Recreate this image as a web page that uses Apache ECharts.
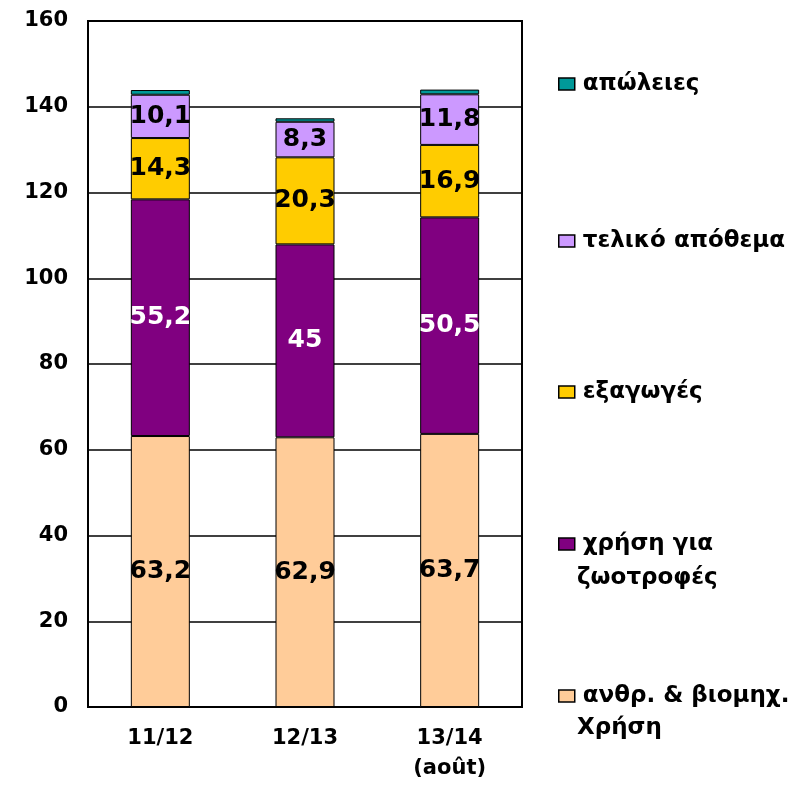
<!DOCTYPE html>
<html>
<head>
<meta charset="utf-8">
<script src="https://cdn.jsdelivr.net/npm/echarts@6/dist/echarts.min.js"></script>
<style>html,body{margin:0;padding:0;background:#fff}#c{width:809px;height:785px}</style>
</head>
<body>
<div id="c"></div>
<script>
const categories = ['11/12', '12/13', '13/14\n(août)'];
const humanUse = [63.2, 62.9, 63.7];
const feedUse = [55.2, 45, 50.5];
const exportsV = [14.3, 20.3, 16.9];
const endStock = [10.1, 8.3, 11.8];
const losses = [1.1, 0.8, 1.1];
const yTicks = [0, 20, 40, 60, 80, 100, 120, 140, 160];

const FONT = 'DejaVu Sans';
const names = ['ανθρ. & βιομηχ. Χρήση', 'χρήση για ζωοτροφές', 'εξαγωγές', 'τελικό απόθεμα', 'απώλειες'];
const colors = ['#FFCC99', '#800080', '#FFCC00', '#CC99FF', '#009999'];
const labelColors = ['#000', '#fff', '#000', '#000', null];
const dataSets = [humanUse, feedUse, exportsV, endStock, losses];

const series = dataSets.map((d, i) => ({
  name: names[i],
  type: 'bar',
  stack: 'total',
  barWidth: 59,
  data: d,
  itemStyle: { color: colors[i], borderColor: '#000', borderWidth: 1 },
  label: labelColors[i] ? {
    show: true, position: 'inside', color: labelColors[i],
    fontFamily: FONT, fontWeight: 'bold', fontSize: 25,
    formatter: p => String(p.value).replace('.', ',')
  } : { show: false },
  emphasis: { disabled: true },
  animation: false
}));

const legendFirst = {
  'απώλειες': 'απώλειες',
  'τελικό απόθεμα': 'τελικό απόθεμα',
  'εξαγωγές': 'εξαγωγές',
  'χρήση για ζωοτροφές': 'χρήση για',
  'ανθρ. & βιομηχ. Χρήση': 'ανθρ. & βιομηχ.'
};
const legendCenters = [[names[4], 79], [names[3], 236], [names[2], 387], [names[1], 539], [names[0], 691]];
const legends = legendCenters.map(([n, c]) => ({
  data: [n],
  left: 553,
  top: c - 13,
  orient: 'vertical',
  icon: 'rect',
  itemWidth: 16,
  itemHeight: 12,
  itemGap: 5,
  selectedMode: false,
  itemStyle: { borderColor: '#000', borderWidth: 1.5 },
  formatter: name => legendFirst[name],
  textStyle: { fontFamily: FONT, fontWeight: 'bold', fontSize: 23, color: '#000', lineHeight: 26, padding: [0, 0, 0, 3] }
}));

const chart = echarts.init(document.getElementById('c'), null, { renderer: 'canvas' });
chart.setOption({
  backgroundColor: '#fff',
  animation: false,
  grid: { left: 88, right: 287, top: 21, bottom: 78, show: true, borderColor: '#000', borderWidth: 2, backgroundColor: 'transparent' },
  legend: legends,
  xAxis: {
    type: 'category',
    data: categories,
    axisLine: { lineStyle: { color: '#000', width: 2 } },
    axisTick: { show: false },
    axisLabel: { color: '#000', fontFamily: FONT, fontWeight: 'bold', fontSize: 21, lineHeight: 30, margin: 17, interval: 0 }
  },
  yAxis: {
    type: 'value',
    min: yTicks[0],
    max: yTicks[yTicks.length - 1],
    interval: 20,
    axisLine: { show: true, lineStyle: { color: '#000', width: 2 } },
    axisTick: { show: false },
    splitLine: { lineStyle: { color: '#000', width: 1.5 } },
    axisLabel: { color: '#000', fontFamily: FONT, fontWeight: 'bold', fontSize: 21, margin: 20 }
  },
  graphic: [
    { type: 'text', left: 577, top: 578 - 13, style: { text: 'ζωοτροφές', font: 'bold 23px "DejaVu Sans"', fill: '#000', lineHeight: 26 } },
    { type: 'text', left: 577, top: 728 - 13, style: { text: 'Χρήση', font: 'bold 23px "DejaVu Sans"', fill: '#000', lineHeight: 26 } }
  ],
  series: series
});
</script>
</body>
</html>
